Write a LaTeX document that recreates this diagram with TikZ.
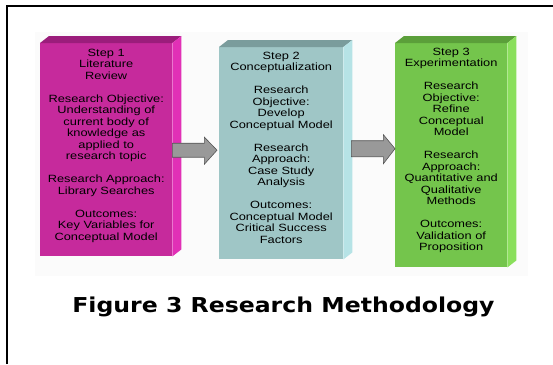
\documentclass[tikz,border=0pt]{standalone}
\usepackage{fontspec}
\usetikzlibrary{calc}
\newfontfamily\boxfont[FakeStretch=1.22]{Liberation Sans}
\newfontfamily\titlefont[FakeStretch=1.15]{DejaVu Sans Bold}
\definecolor{magfront}{HTML}{C62A9C}
\definecolor{magtop}{HTML}{9B1D7B}
\definecolor{magside}{HTML}{E130B6}
\definecolor{tealfront}{HTML}{9FC6C6}
\definecolor{tealtop}{HTML}{7A9C9C}
\definecolor{tealside}{HTML}{B6E3E6}
\definecolor{grnfront}{HTML}{74C54C}
\definecolor{grntop}{HTML}{5B9F3A}
\definecolor{grnside}{HTML}{8ADF5B}
\definecolor{arrowfill}{HTML}{999999}
\definecolor{arrowline}{HTML}{555555}
\definecolor{backdrop}{HTML}{FBFBFB}
\begin{document}
\begin{tikzpicture}[x=1pt,y=-1pt,
  front/.style={draw=none,inner sep=0pt,anchor=north west},
  steptext/.style={inner sep=0pt,anchor=north,align=center,text=black,
    font=\boxfont\fontsize{10.5}{11.5}\selectfont},
  blockarrow/.style={fill=arrowfill,draw=arrowline,line width=0.6pt,line join=miter},
]
% page and frame
\useasboundingbox (0,0) rectangle (553,364);
\fill[white] (0,0) rectangle (553,364);
\fill[backdrop] (35,32) rectangle (528,276);
\draw[line width=2pt] (7,364) -- (7,6) -- (553,6);

% front faces of the three blocks
\node[front,fill=magfront,minimum width=132pt,minimum height=213pt] (b1) at (40,43) {};
\node[front,fill=tealfront,minimum width=124pt,minimum height=212pt] (b2) at (219,47) {};
\node[front,fill=grnfront,minimum width=112pt,minimum height=224pt] (b3) at (395,43) {};

% top and side faces
\foreach \b/\tc/\sc in {b1/magtop/magside, b2/tealtop/tealside, b3/grntop/grnside}{
  \fill[\tc] (\b.north west) -- ++(9,-7) -- ($(\b.north east)+(9,-7)$) -- (\b.north east) -- cycle;
  \fill[\sc] (\b.north east) -- ++(9,-7) -- ($(\b.south east)+(9,-7)$) -- (\b.south east) -- cycle;
}

% block texts
\node[steptext] (t1) at ($(b1.north)+(0,5.5)$) {Step 1\\Literature\\Review\\[11.5pt]
  Research Objective:\\Understanding of\\current body of\\knowledge as\\applied to\\research topic\\[11.5pt]
  Research Approach:\\Library Searches\\[11.5pt]
  Outcomes:\\Key Variables for\\Conceptual Model};
\node[steptext] (t2) at ($(b2.north)+(0,4.9)$) {Step 2\\Conceptualization\\[11.5pt]
  Research\\Objective:\\Develop\\Conceptual Model\\[11.5pt]
  Research\\Approach:\\Case Study\\Analysis\\[11.5pt]
  Outcomes:\\Conceptual Model\\Critical Success\\Factors};
\node[steptext] (t3) at ($(b3.north)+(0,4.9)$) {Step 3\\Experimentation\\[11.5pt]
  Research\\Objective:\\Refine\\Conceptual\\Model\\[11.5pt]
  Research\\Approach:\\Quantitative and\\Qualitative\\Methods\\[11.5pt]
  Outcomes:\\Validation of\\Proposition};

% block arrows between the steps
\coordinate (a1) at ($(b1.east)+(0,0.5)$);
\coordinate (a2) at ($(b2.east)+(8,-4.5)$);
\filldraw[blockarrow] ($(a1)+(0,-7)$) -- ++(32,0) -- ++(0,-6) -- ($(b2.west |- a1)+(-2,0)$)
  -- ($(a1)+(32,14)$) -- ++(0,-7) -- ($(a1)+(0,7)$) -- cycle;
\filldraw[blockarrow] ($(a2)+(0,-8)$) -- ++(32,0) -- ++(0,-6) -- ($(b3.west |- a2)+(0,0)$)
  -- ($(a2)+(32,15)$) -- ++(0,-7) -- ($(a2)+(0,8)$) -- cycle;

% caption
\node[anchor=base,inner sep=0pt,font=\titlefont\fontsize{20.5}{24}\selectfont] (title) at (283.5,312)
  {Figure 3 Research Methodology};
\end{tikzpicture}
\end{document}
